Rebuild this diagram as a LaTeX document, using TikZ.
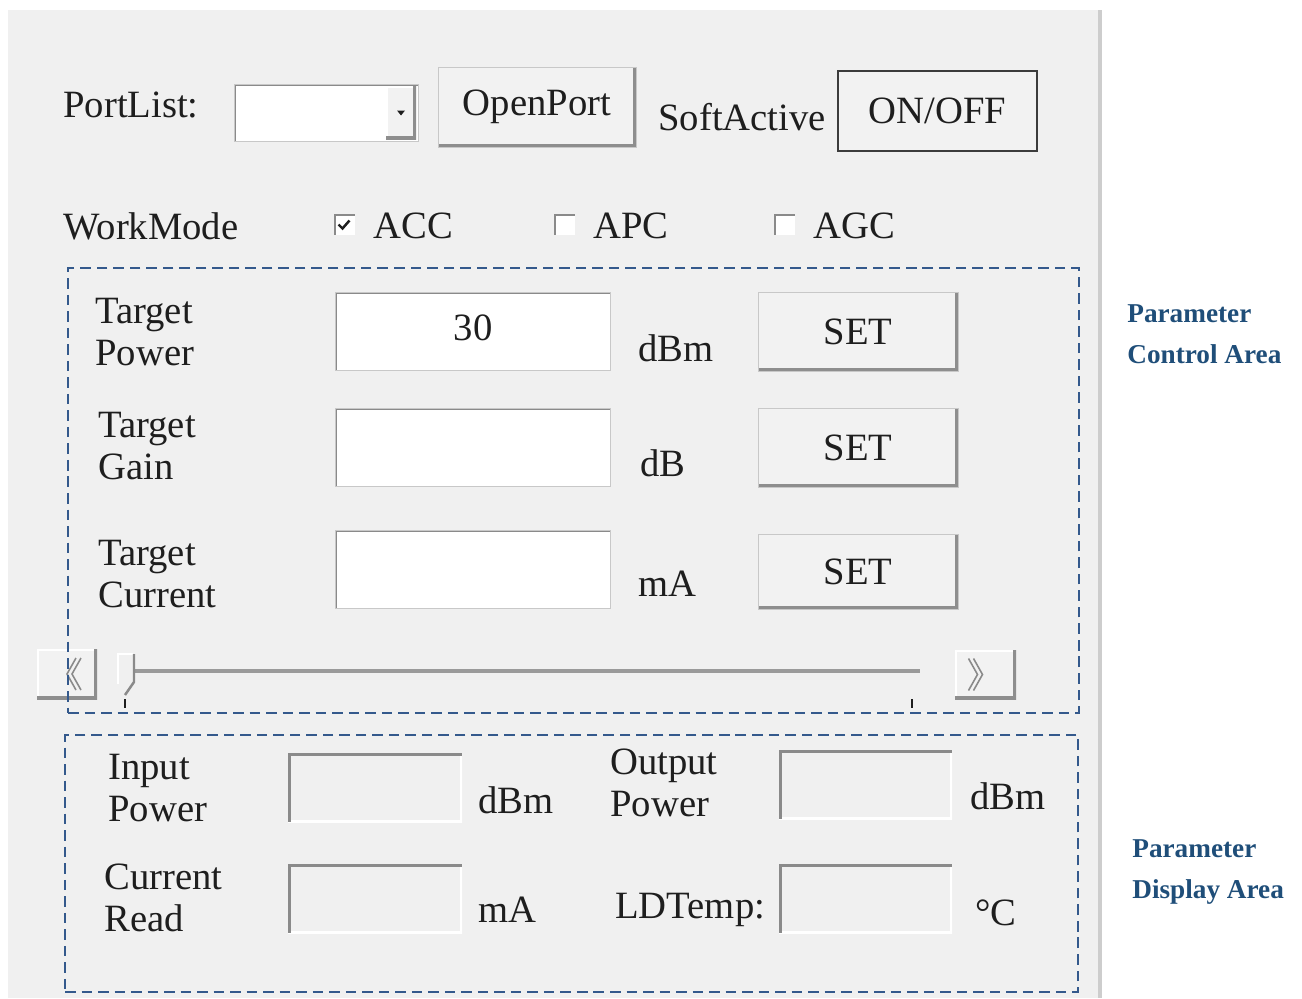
\documentclass[tikz,border=0pt]{standalone}
\usepackage{fontspec}
\setmainfont{Liberation Serif}
\usepackage{xcolor}
\usepackage{tikz}
\usetikzlibrary{fit}
\definecolor{panel}{HTML}{F0F0F0}
\definecolor{guitext}{HTML}{1E1E1E}
\definecolor{btnface}{HTML}{F2F2F2}
\definecolor{btnedge}{HTML}{C8C8C8}
\definecolor{btnshadow}{HTML}{8E8E8E}
\definecolor{toggleedge}{HTML}{3C3C3C}
\definecolor{sunken}{HTML}{8A8A8A}
\definecolor{frameedge}{HTML}{CDCDCD}
\definecolor{trackgray}{HTML}{9A9A9A}
\definecolor{areablue}{HTML}{34598C}
\definecolor{noteblue}{HTML}{1F4E79}
\newcommand{\edgeBR}[1]{\draw[#1] (path picture bounding box.south west) -- (path picture bounding box.south east) -- (path picture bounding box.north east);}
\newcommand{\edgeTL}[1]{\draw[#1] (path picture bounding box.south west) -- (path picture bounding box.north west) -- (path picture bounding box.north east);}
\tikzset{
  gui/.style={font=\fontsize{22}{24.2}\selectfont, text=guitext, inner sep=0pt},
  lbl/.style={gui, anchor=west},
  stacked/.style={gui, anchor=west, align=left},
  btn/.style={fill=btnface, draw=btnedge, line width=0.5pt, inner sep=0pt,
              path picture={\edgeBR{btnshadow, line width=3.2pt}}},
  toggle/.style={fill=btnface, draw=toggleedge, line width=1.2pt, inner sep=0pt},
  raised/.style={fill=btnface, inner sep=0pt,
                 path picture={\edgeTL{white, line width=2pt}\edgeBR{btnshadow, line width=3.2pt}}},
  editbox/.style={fill=white, draw=btnedge, line width=0.4pt, inner sep=0pt,
                  path picture={\edgeTL{sunken, line width=2.4pt}}},
  readbox/.style={fill=panel, inner sep=0pt,
                  path picture={\edgeBR{white, line width=2.4pt}\edgeTL{sunken, line width=3pt}}},
  chkbox/.style={fill=white, inner sep=0pt,
                 path picture={\edgeTL{sunken, line width=2.4pt}}},
  caption/.style={label={[gui]center:#1}},
  checkmark/.style={draw=guitext, line width=1.4pt},
  chevron/.style={draw=sunken, line width=0.9pt},
  track/.style={draw=trackgray, line width=2.2pt},
  tickmark/.style={draw=guitext, line width=1pt},
  area/.style={draw=areablue, line width=1.4pt, dash pattern=on 6pt off 3.4pt, inner sep=0pt},
  note/.style={font=\fontsize{15.5}{23.5}\selectfont\bfseries, text=noteblue,
               anchor=west, align=left, inner sep=0pt},
}

\begin{document}
\begin{tikzpicture}[x=0.02cm, y=-0.02cm]
  \useasboundingbox (0,0) rectangle (1302,998);
  % window
  \fill[panel] (8,10) rectangle (1098,998);
  \draw[frameedge, line width=2pt] (1100,10) -- (1100,998);
  % port row
  \node[lbl] (portlbl) at (63,105) {PortList:};
  \node[editbox, fit={(234,84) (418,141)}] (portlist) {};
  \node[raised, fit={(386,86) (416,139)}] (dropbtn) {};
  \fill[guitext] ([shift={(-4,-2)}]dropbtn.center) -- ([shift={(4,-2)}]dropbtn.center)
    -- ([shift={(0,3)}]dropbtn.center) -- cycle;
  \node[btn, fit={(438,67) (636,147)}, caption=OpenPort] (openport) {};
  \node[lbl] (softlbl) at (658,117) {SoftActive};
  \node[toggle, fit={(838,71) (1037,151)}, caption=ON/OFF] (onoff) {};
  % work mode
  \node[lbl] (modelbl) at (63,226) {WorkMode};
  \node[chkbox, fit={(334,214) (355,235)}] (accchk) {};
  \node[lbl] (acclbl) at (373,226) {ACC};
  \draw[checkmark] ([shift={(-6,0)}]accchk.center) -- ([shift={(-2,4)}]accchk.center)
    -- ([shift={(5,-4)}]accchk.center);
  \node[chkbox, fit={(554,214) (575,235)}] (apcchk) {};
  \node[lbl] (apclbl) at (593,226) {APC};
  \node[chkbox, fit={(774,214) (795,235)}] (agcchk) {};
  \node[lbl] (agclbl) at (813,226) {AGC};
  % control area
  \node[stacked] (powlbl) at (95,332) {Target\\Power};
  \node[editbox, fit={(335,292) (610,370)}] (powbox) {};
  \node[gui] (powval) at (473,328) {30};
  \node[lbl] (powunit) at (638,348) {dBm};
  \node[btn, fit={(758,292) (958,371)}, caption=SET] (powset) {};
  \node[stacked] (gainlbl) at (98,446) {Target\\Gain};
  \node[editbox, fit={(335,408) (610,486)}] (gainbox) {};
  \node[lbl] (gainunit) at (640,463) {dB};
  \node[btn, fit={(758,408) (958,487)}, caption=SET] (gainset) {};
  \node[stacked] (curlbl) at (98,574) {Target\\Current};
  \node[editbox, fit={(335,530) (610,608)}] (curbox) {};
  \node[lbl] (curunit) at (638,584) {mA};
  \node[btn, fit={(758,534) (958,609)}, caption=SET] (curset) {};
  % slider
  \node[raised, fit={(37,649) (97,699)}] (leftbtn) {};
  \draw[chevron] ([shift={(9,-16)}]leftbtn.center) -- ([shift={(0,0)}]leftbtn.center)
    -- ([shift={(9,16)}]leftbtn.center);
  \draw[chevron] ([shift={(14,-16)}]leftbtn.center) -- ([shift={(5,0)}]leftbtn.center)
    -- ([shift={(14,16)}]leftbtn.center);
  \node[raised, fit={(955,650) (1016,699)}] (rightbtn) {};
  \draw[chevron] ([shift={(-17,-16)}]rightbtn.center) -- ([shift={(-8,0)}]rightbtn.center)
    -- ([shift={(-17,16)}]rightbtn.center);
  \draw[chevron] ([shift={(-12,-16)}]rightbtn.center) -- ([shift={(-3,0)}]rightbtn.center)
    -- ([shift={(-12,16)}]rightbtn.center);
  \coordinate (trackL) at (135,671);
  \coordinate (trackR) at (920,671);
  \draw[track] (trackL) -- (trackR);
  \draw[white, line width=0.8pt] (118,684) -- (118,654) -- (133,654);
  \draw[sunken, line width=1.4pt] (134,654) -- (134,682) -- (125,695);
  \draw[tickmark] (125,699) -- (125,708);
  \draw[tickmark] (912,699) -- (912,708);
  \node[area, fit={(68,268) (1079,713)}] (ctrlarea) {};
  % display area
  \node[stacked] (inlbl) at (108,788) {Input\\Power};
  \node[readbox, fit={(288,753) (462,822)}] (inbox) {};
  \node[lbl] (inunit) at (478,800) {dBm};
  \node[stacked] (outlbl) at (610,783) {Output\\Power};
  \node[readbox, fit={(779,750) (952,819)}] (outbox) {};
  \node[lbl] (outunit) at (970,796) {dBm};
  \node[stacked] (readlbl) at (104,898) {Current\\Read};
  \node[readbox, fit={(288,864) (462,933)}] (readbox) {};
  \node[lbl] (readunit) at (478,910) {mA};
  \node[lbl] (templbl) at (615,910) {LDTemp:};
  \node[readbox, fit={(779,864) (952,933)}] (tempbox) {};
  \node[lbl] (tempunit) at (975,913) {°C};
  \node[area, fit={(65,735) (1078,992)}] (disparea) {};
  % notes
  \node[note] (ctrlnote) at (1127,334) {Parameter\\Control Area};
  \node[note] (dispnote) at (1132,872) {Parameter\\Display Area};
\end{tikzpicture}
\end{document}
